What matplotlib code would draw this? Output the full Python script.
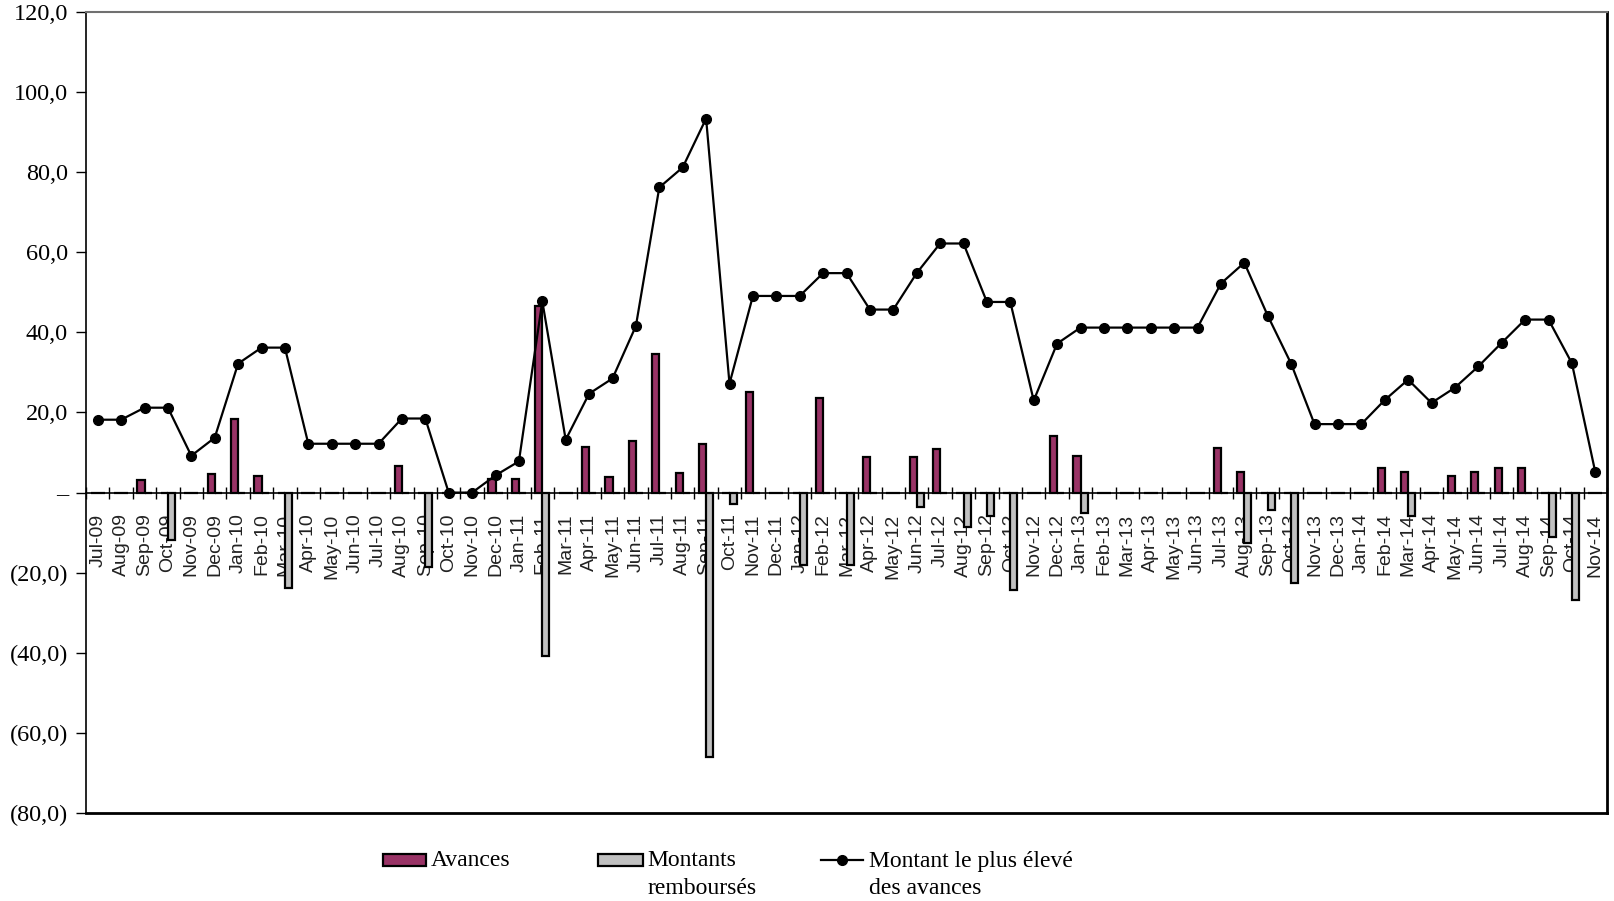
import numpy as np
import matplotlib
matplotlib.use('Agg')
import matplotlib.pyplot as plt
from matplotlib.patches import Rectangle
from matplotlib.lines import Line2D

# month labels
mois = ['Jul-09', 'Aug-09', 'Sep-09', 'Oct-09', 'Nov-09', 'Dec-09',
        'Jan-10', 'Feb-10', 'Mar-10', 'Apr-10', 'May-10', 'Jun-10',
        'Jul-10', 'Aug-10', 'Sep-10', 'Oct-10', 'Nov-10', 'Dec-10',
        'Jan-11', 'Feb-11', 'Mar-11', 'Apr-11', 'May-11', 'Jun-11',
        'Jul-11', 'Aug-11', 'Sep-11', 'Oct-11', 'Nov-11', 'Dec-11',
        'Jan-12', 'Feb-12', 'Mar-12', 'Apr-12', 'May-12', 'Jun-12',
        'Jul-12', 'Aug-12', 'Sep-12', 'Oct-12', 'Nov-12', 'Dec-12',
        'Jan-13', 'Feb-13', 'Mar-13', 'Apr-13', 'May-13', 'Jun-13',
        'Jul-13', 'Aug-13', 'Sep-13', 'Oct-13', 'Nov-13', 'Dec-13',
        'Jan-14', 'Feb-14', 'Mar-14', 'Apr-14', 'May-14', 'Jun-14',
        'Jul-14', 'Aug-14', 'Sep-14', 'Oct-14', 'Nov-14']

avances = [0, 0, 3.2, 0, 0, 4.6,
           18.5, 4.1, 0, 0, 0, 0,
           0, 6.6, 0, 0, 0, 3.5,
           3.5, 46.5, 0, 11.5, 3.9, 12.9,
           34.6, 4.9, 12.1, 0, 25.1, 0,
           0, 23.6, 0, 9.0, 0, 9.0,
           11.0, 0, 0, 0, 0, 14.1,
           9.1, 0, 0, 0, 0, 0,
           11.2, 5.2, 0, 0, 0, 0,
           0, 6.2, 5.2, 0, 4.1, 5.2,
           6.2, 6.2, 0, 0, 0]

rembourses = [0, 0, 0, -11.8, 0, 0,
              0, 0, -23.8, 0, 0, 0,
              0, 0, -18.5, 0, 0, 0,
              0, -40.9, 0, 0, 0, 0,
              0, 0, -66.1, -2.9, 0, 0,
              -18.1, 0, -18.1, 0, 0, -3.5,
              0, -8.5, -5.8, -24.4, 0, 0,
              -5.1, 0, 0, 0, 0, 0,
              0, -12.7, -4.3, -22.5, 0, 0,
              0, 0, -5.8, 0, 0, 0,
              0, 0, -11.1, -26.7, 0]

plus_eleve = [18.2, 18.2, 21.2, 21.2, 9.2, 13.7,
              32.2, 36.2, 36.2, 12.2, 12.2, 12.2,
              12.2, 18.5, 18.5, 0, 0, 4.3,
              7.8, 47.8, 13.2, 24.7, 28.5, 41.6,
              76.2, 81.2, 93.4, 27.2, 49.1, 49.1,
              49.1, 54.8, 54.8, 45.7, 45.7, 54.8,
              62.2, 62.2, 47.6, 47.6, 23.0, 37.2,
              41.2, 41.2, 41.2, 41.2, 41.2, 41.2,
              52.2, 57.4, 44.2, 32.2, 17.1, 17.1,
              17.1, 23.1, 28.2, 22.4, 26.2, 31.5,
              37.4, 43.2, 43.2, 32.3, 5.1]

y_ticks = [-80, -60, -40, -20, 0, 20, 40, 60, 80, 100, 120]
y_labels = ['(80,0)', '(60,0)', '(40,0)', '(20,0)', '\u2013', '20,0', '40,0',
            '60,0', '80,0', '100,0', '120,0']

serif = 'Liberation Serif'
sans = 'Liberation Sans'

fig = plt.figure(figsize=(16.14, 9.01), dpi=100)
ax = fig.add_axes([86 / 1614, 1 - 813 / 901, (1607 - 86) / 1614, (813 - 12) / 901])

x = np.arange(len(mois))
w = 0.3
ax.bar(x - w / 2, avances, w, color='#993366', edgecolor='black', linewidth=1.6, zorder=2)
ax.bar(x + w / 2, rembourses, w, color='#C0C0C0', edgecolor='black', linewidth=1.6, zorder=2)
ax.plot(x, plus_eleve, color='black', linewidth=1.6, marker='o', markersize=7, zorder=3)

ax.set_xlim(-0.5, len(mois) - 0.5)
ax.set_ylim(-80, 120)

# axis through zero with ticks between months
ax.spines['bottom'].set_position(('data', 0))
ax.spines['bottom'].set_linewidth(1.2)
ax.axhline(-80, color='black', linewidth=2.0, clip_on=False, zorder=4)
ax.spines['top'].set_color('#707070')
ax.spines['top'].set_linewidth(1.5)
ax.spines['right'].set_linewidth(2.0)
ax.spines['left'].set_linewidth(1.2)

ax.set_xticks(x)
ax.set_xticklabels(mois, rotation=90, family=sans, fontsize=14, color='#222222')
ax.set_xticks(np.arange(len(mois) + 1) - 0.5, minor=True)
ax.tick_params(axis='x', which='major', length=0, pad=15)
ax.tick_params(axis='x', which='minor', direction='inout', length=9, width=1.0)

ax.set_yticks(y_ticks)
ax.set_yticklabels(y_labels, family=serif, fontsize=17.5)
ax.tick_params(axis='y', direction='out', length=7, width=1.0, pad=6)

# legend below the plot
def fy(py):
    return 1 - py / 901

fig.add_artist(Rectangle((383 / 1614, fy(866)), 43 / 1614, 12 / 901,
                         facecolor='#993366', edgecolor='black', linewidth=1.6))
fig.text(431 / 1614, fy(861), 'Avances', family=serif, fontsize=17, va='center')

fig.add_artist(Rectangle((598 / 1614, fy(866)), 45 / 1614, 12 / 901,
                         facecolor='#C0C0C0', edgecolor='black', linewidth=1.6))
fig.text(647 / 1614, fy(861), 'Montants', family=serif, fontsize=17, va='center')
fig.text(647 / 1614, fy(888), 'rembours\u00e9s', family=serif, fontsize=17, va='center')

fig.add_artist(Line2D([821 / 1614, 863 / 1614], [fy(860), fy(860)], color='black',
                      linewidth=1.6))
fig.add_artist(Line2D([842 / 1614], [fy(860)], color='black', marker='o', markersize=7))
fig.text(869 / 1614, fy(861), 'Montant le plus \u00e9lev\u00e9', family=serif, fontsize=17, va='center')
fig.text(869 / 1614, fy(888), 'des avances', family=serif, fontsize=17, va='center')

fig.savefig('out.png', dpi=100)
